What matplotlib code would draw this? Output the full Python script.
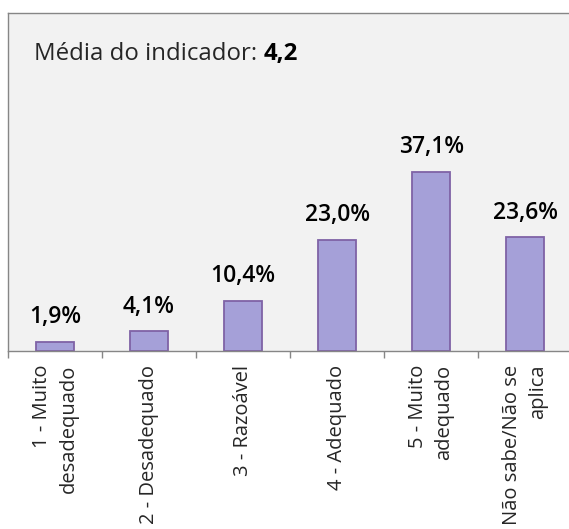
import numpy as np
import matplotlib
matplotlib.use("Agg")
import matplotlib.pyplot as plt

plt.rcParams['font.family'] = ['Open Sans', 'DejaVu Sans']

# Dados
categorias = ["1 - Muito\ndesadequado", "2 - Desadequado", "3 - Razoável",
              "4 - Adequado", "5 - Muito\nadequado", "Não sabe/Não se\naplica"]
percentuais = [1.9, 4.1, 10.4, 23.0, 37.1, 23.6]
rotulos = ["1,9%", "4,1%", "10,4%", "23,0%", "37,1%", "23,6%"]
media_txt = "4,2"

fig = plt.figure(figsize=(5.69, 5.29), dpi=100)
ax = fig.add_axes([8 / 569, 178 / 529, 600 / 569, 338 / 529])
ax.set_facecolor('#f2f2f2')

x = np.arange(len(categorias))
barras = ax.bar(x, percentuais, width=0.4, color='#a5a0d8', edgecolor='#7f63a6', linewidth=1.3)

for b, r in zip(barras, rotulos):
    ax.annotate(r, (b.get_x() + b.get_width() / 2, b.get_height()),
                xytext=(0, 9), textcoords='offset points',
                ha='center', va='bottom', fontsize=16.5, fontweight='semibold',
                color='black')

ax.set_xlim(-0.5, 5.88)
ax.set_ylim(0, 70)
ax.set_yticks([])

# rotulos no centro, tracinhos nas divisas
ax.set_xticks(x)
ax.set_xticklabels(categorias, rotation=90, va='top', ha='center',
                   multialignment='right', fontsize=14.5, color='#262626', linespacing=1.45)
ax.tick_params(axis='x', which='major', length=0, pad=10)
ax.set_xticks(np.arange(-0.5, 6, 1), minor=True)
ax.tick_params(axis='x', which='minor', length=5, width=1, color='#868686')

for s in ax.spines.values():
    s.set_color('#868686')
    s.set_linewidth(1)

t1 = ax.text(0.044, 0.88, "Média do indicador: ", transform=ax.transAxes,
             fontsize=17.3, color='#262626', va='center', ha='left')
ax.annotate(media_txt, xy=(1, 0), xycoords=t1, va='bottom', ha='left',
            fontsize=17.3, fontweight='bold', color='black')

fig.savefig("out.png", dpi=100)
